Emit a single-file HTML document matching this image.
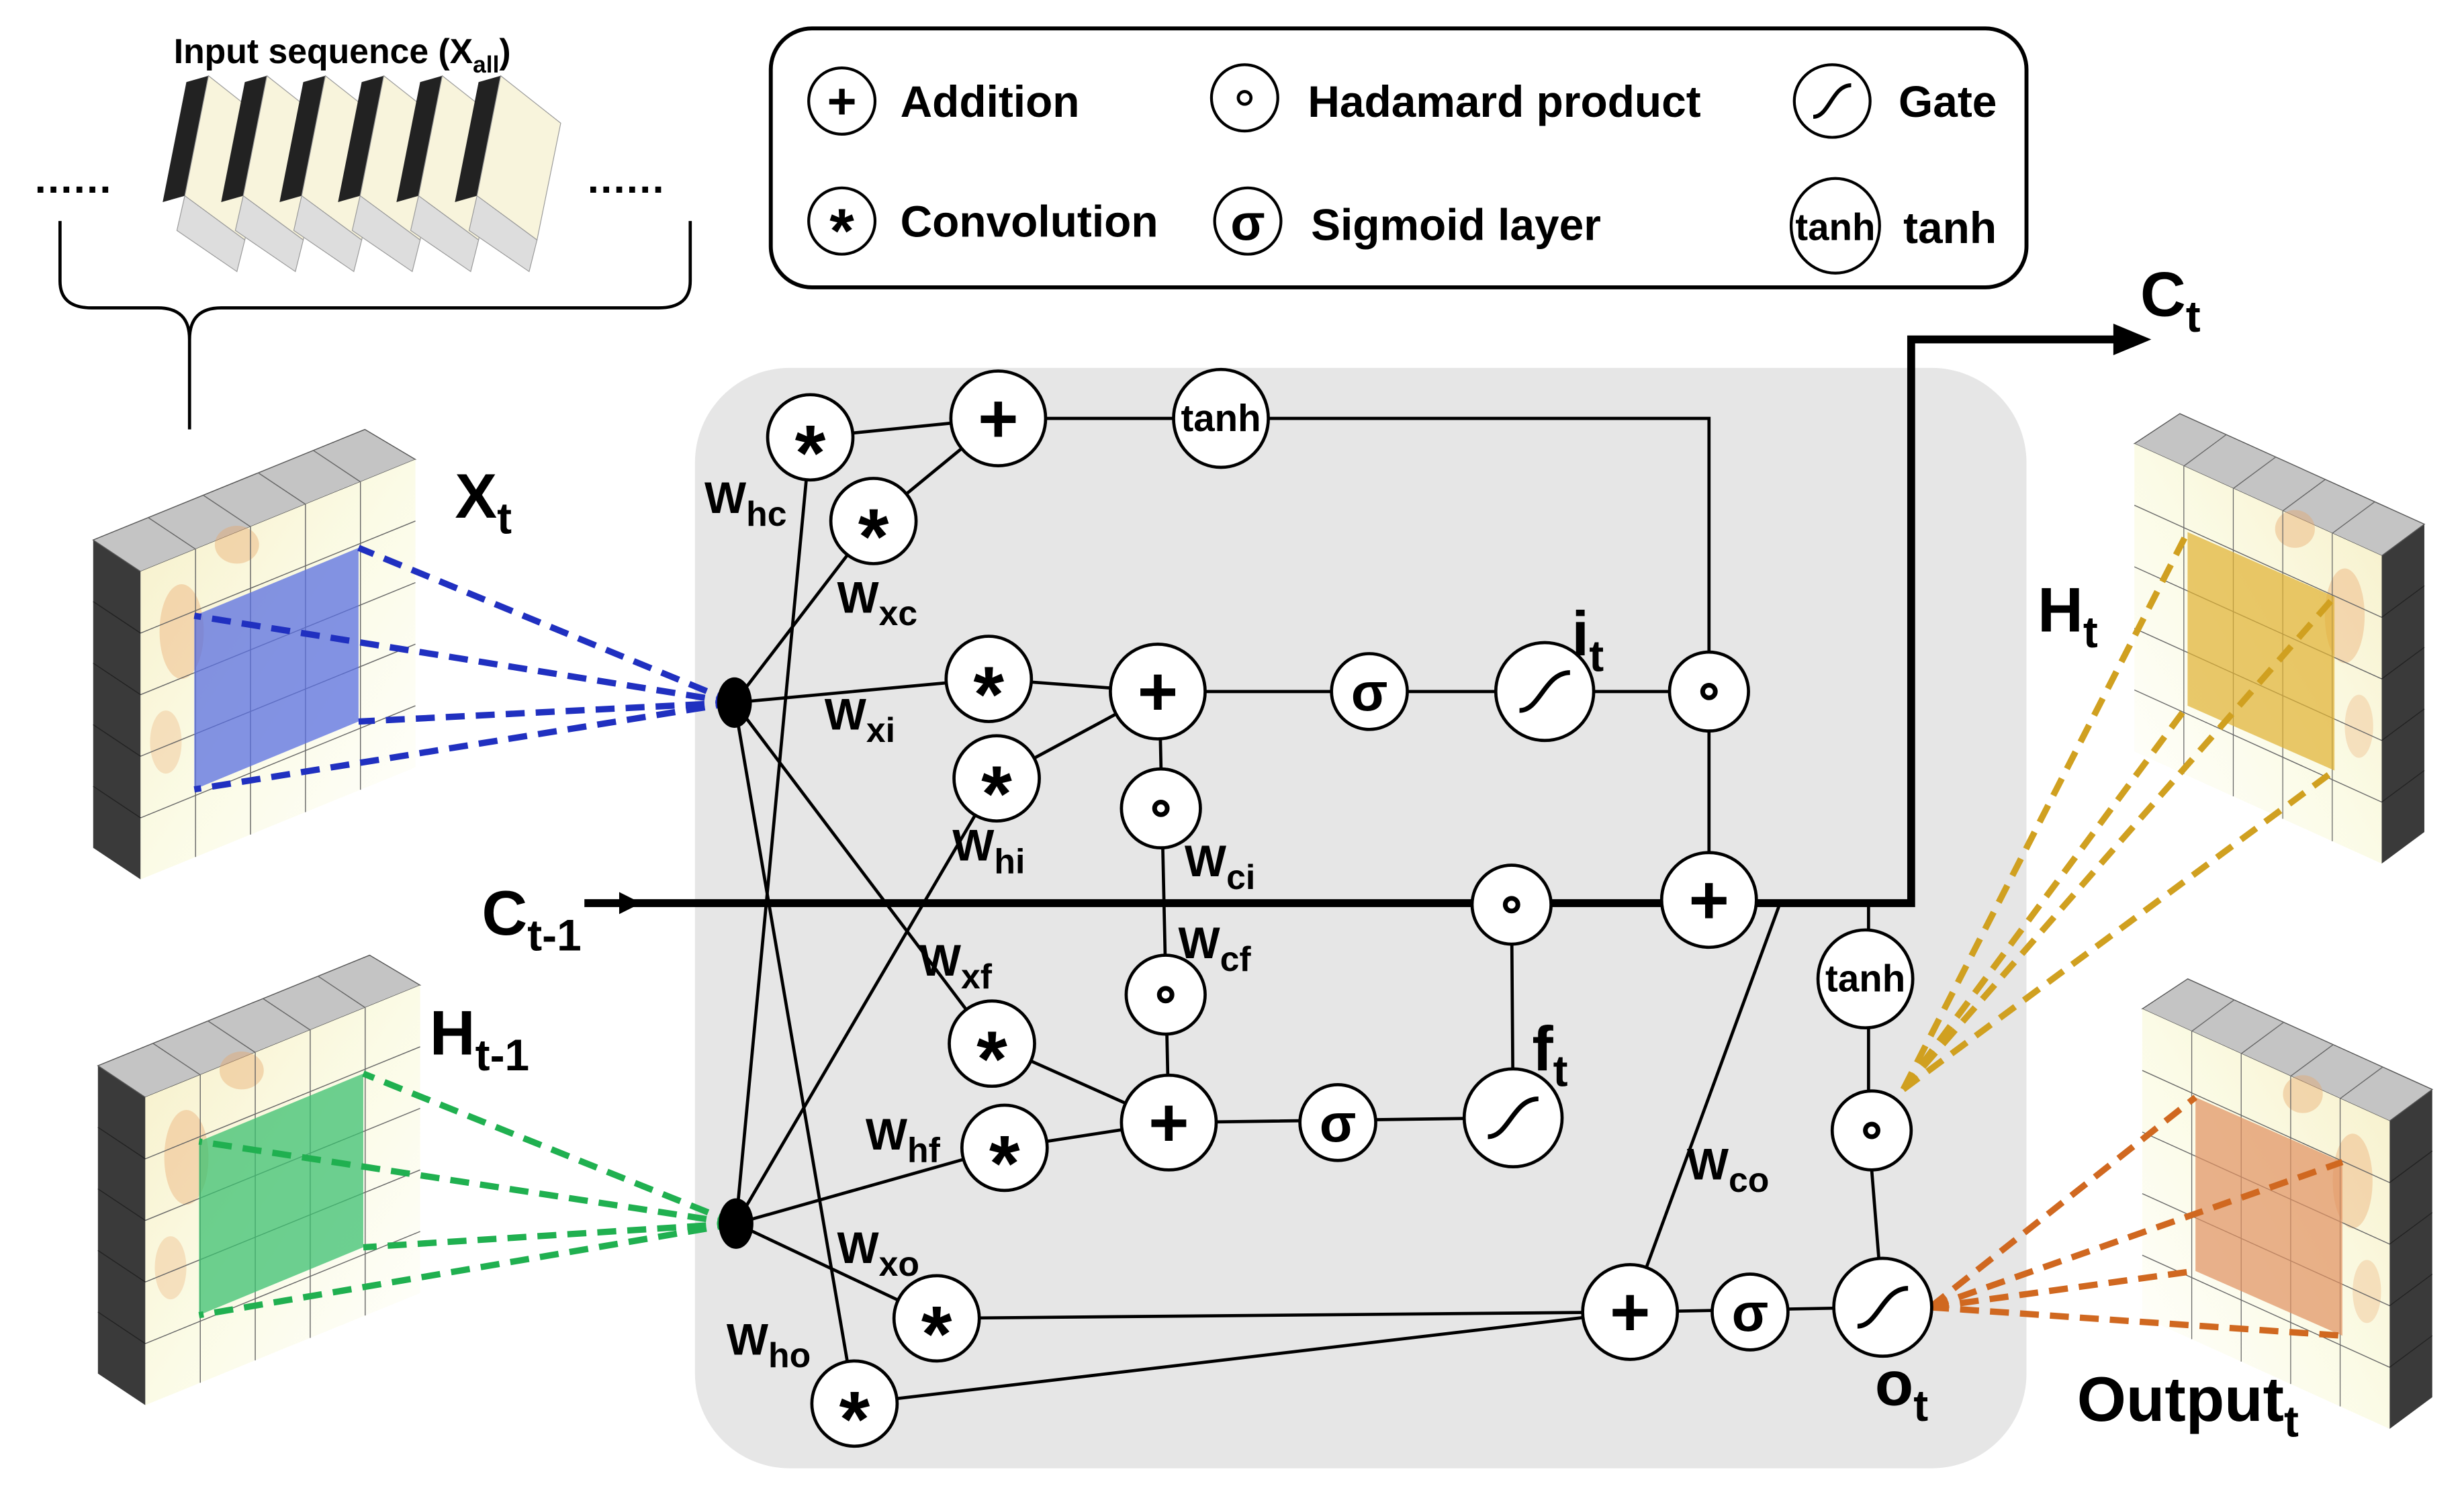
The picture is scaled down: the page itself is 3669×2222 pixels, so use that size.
<!DOCTYPE html>
<html><head><meta charset="utf-8"><style>
html,body{margin:0;padding:0;background:#fff}
svg{display:block}
text{font-family:"Liberation Sans",sans-serif;font-weight:bold;fill:#000}
</style></head><body>
<svg width="3669" height="2222" viewBox="0 0 1560 945" preserveAspectRatio="none" xmlns="http://www.w3.org/2000/svg">
<defs>
<linearGradient id="cream" x1="0" y1="0" x2="1" y2="1">
<stop offset="0" stop-color="#f7efc8"/><stop offset="0.5" stop-color="#fbfbe6"/><stop offset="1" stop-color="#ffffff"/>
</linearGradient>
<g id="blk">
<polygon points="59,342 89,362 89,557 59,537" fill="#3a3a3a"/>
<polygon points="59,342 89,362 263,291 231,272" fill="#c4c4c4" stroke="#555" stroke-width="0.6"/>
<polygon points="89,362 263,291 263,486 89,557" fill="url(#cream)"/>
<ellipse cx="115" cy="400" rx="14" ry="30" fill="#eab27a" opacity="0.45"/>
<ellipse cx="150" cy="345" rx="14" ry="12" fill="#e8a868" opacity="0.4"/>
<ellipse cx="105" cy="470" rx="10" ry="20" fill="#eab27a" opacity="0.35"/>
<g stroke="#666" stroke-width="0.6" fill="none">
<line x1="123.8" y1="347.8" x2="123.8" y2="542.8"/><line x1="158.6" y1="333.6" x2="158.6" y2="528.6"/>
<line x1="193.4" y1="319.4" x2="193.4" y2="514.4"/><line x1="228.2" y1="305.2" x2="228.2" y2="500.2"/>
<line x1="89" y1="401" x2="263" y2="330"/><line x1="89" y1="440" x2="263" y2="369"/>
<line x1="89" y1="479" x2="263" y2="408"/><line x1="89" y1="518" x2="263" y2="447"/>
<line x1="123.8" y1="347.8" x2="93.8" y2="327.8"/><line x1="158.6" y1="333.6" x2="128.6" y2="313.6"/>
<line x1="193.4" y1="319.4" x2="163.4" y2="299.4"/><line x1="228.2" y1="305.2" x2="198.2" y2="285.2"/>
<line x1="59" y1="381" x2="89" y2="401" stroke="#222"/><line x1="59" y1="420" x2="89" y2="440" stroke="#222"/>
<line x1="59" y1="459" x2="89" y2="479" stroke="#222"/><line x1="59" y1="498" x2="89" y2="518" stroke="#222"/>
</g>
</g>
<g id="slice">
<polygon points="103,128 118,52 132,48 117,124" fill="#222"/>
<polygon points="117,124 132,48 170,78 155,152" fill="#f8f4dc" stroke="#999" stroke-width="0.5"/>
<polygon points="117,124 155,152 150,172 112,146" fill="#ddd" stroke="#999" stroke-width="0.5"/>
</g>
</defs>

<!-- input sequence -->
<text x="110" y="40" font-size="22">Input sequence (X<tspan font-size="15" dy="6">all</tspan><tspan dy="-6">)</tspan></text>
<use href="#slice"/><use href="#slice" x="37"/><use href="#slice" x="74"/><use href="#slice" x="111"/><use href="#slice" x="148"/><use href="#slice" x="185"/>
<text x="22" y="122" font-size="26" letter-spacing="1">......</text>
<text x="372" y="122" font-size="26" letter-spacing="1">......</text>
<path d="M38,140 L38,178 Q38,195 58,195 L100,195 Q120,195 120,215 L120,272 M120,215 Q120,195 140,195 L417,195 Q437,195 437,178 L437,140" fill="none" stroke="#000" stroke-width="2"/>

<!-- legend -->
<rect x="488" y="18" width="795" height="164" rx="26" fill="#fff" stroke="#000" stroke-width="2.5"/>
<g fill="#fff" stroke="#000" stroke-width="1.8">
<circle cx="533" cy="64" r="21"/><circle cx="788" cy="62" r="21"/><ellipse cx="1160" cy="64" rx="24" ry="23"/>
<circle cx="533" cy="140" r="21"/><circle cx="790" cy="140" r="21"/><ellipse cx="1162" cy="143" rx="28" ry="30"/>
</g>
<text x="533" y="75" font-size="32" text-anchor="middle">+</text>
<circle cx="788" cy="62" r="4" fill="none" stroke="#000" stroke-width="2"/>
<path d="M1148,74 C1158,74 1160,54 1172,54" fill="none" stroke="#000" stroke-width="2.5"/>
<text x="533" y="160" font-size="40" text-anchor="middle">*</text>
<text x="790" y="152" font-size="32" text-anchor="middle">σ</text>
<text x="1162" y="152" font-size="24" text-anchor="middle">tanh</text>
<text x="570" y="74" font-size="28">Addition</text>
<text x="828" y="74" font-size="28">Hadamard product</text>
<text x="1202" y="74" font-size="28">Gate</text>
<text x="570" y="150" font-size="28">Convolution</text>
<text x="830" y="152" font-size="28">Sigmoid layer</text>
<text x="1205" y="154" font-size="28">tanh</text>

<!-- main grey panel -->
<rect x="440" y="233" width="843" height="697" rx="60" fill="#e6e6e6"/>

<!-- blocks -->
<use href="#blk"/>
<use href="#blk" x="3" y="333"/>
<g transform="translate(1588,-10) scale(-0.9,1)"><use href="#blk"/></g>
<g transform="translate(1593,348) scale(-0.9,1)"><use href="#blk"/></g>

<!-- colored squares -->
<polygon points="123,390 227,347 227,457 123,500" fill="#5a6fe0" opacity="0.75"/>
<polygon points="126,723 230,680 230,790 126,833" fill="#3cc070" opacity="0.75"/>
<polygon points="1385,337 1478,378 1478,488 1385,447" fill="#e0b030" opacity="0.7"/>
<polygon points="1390,695 1483,736 1483,846 1390,805" fill="#e09060" opacity="0.7"/>

<!-- dashed lines -->
<g stroke-width="4" stroke-dasharray="12,7" fill="none">
<g stroke="#2030c0"><line x1="465" y1="445" x2="227" y2="347"/><line x1="465" y1="445" x2="123" y2="390"/><line x1="465" y1="445" x2="227" y2="457"/><line x1="465" y1="445" x2="123" y2="500"/></g>
<g stroke="#20b050"><line x1="466" y1="775" x2="230" y2="680"/><line x1="466" y1="775" x2="126" y2="723"/><line x1="466" y1="775" x2="230" y2="790"/><line x1="466" y1="775" x2="126" y2="833"/></g>
<g stroke="#d0a020"><line x1="1205" y1="690" x2="1385" y2="337"/><line x1="1205" y1="690" x2="1478" y2="378"/><line x1="1205" y1="690" x2="1478" y2="488"/><line x1="1205" y1="690" x2="1385" y2="447"/></g>
<g stroke="#d06820"><line x1="1222" y1="828" x2="1390" y2="695"/><line x1="1222" y1="828" x2="1483" y2="736"/><line x1="1222" y1="828" x2="1483" y2="846"/><line x1="1222" y1="828" x2="1390" y2="805"/></g>
</g>

<!-- thin connectors -->
<g stroke="#000" stroke-width="2" fill="none">
<line x1="513" y1="277" x2="632" y2="265"/><line x1="553" y1="330" x2="632" y2="265"/>
<polyline points="632,265 1082,265 1082,570"/>
<line x1="465" y1="445" x2="553" y2="330"/><line x1="465" y1="445" x2="626" y2="430"/>
<line x1="465" y1="445" x2="628" y2="661"/><line x1="465" y1="445" x2="541" y2="889"/>
<line x1="466" y1="775" x2="513" y2="277"/><line x1="466" y1="775" x2="631" y2="493"/>
<line x1="466" y1="775" x2="636" y2="727"/><line x1="466" y1="775" x2="593" y2="835"/>
<line x1="626" y1="430" x2="733" y2="438"/><line x1="631" y1="493" x2="733" y2="438"/>
<line x1="733" y1="438" x2="1082" y2="438"/>
<line x1="734" y1="438" x2="740" y2="711"/>
<line x1="628" y1="661" x2="740" y2="711"/><line x1="636" y1="727" x2="740" y2="711"/>
<polyline points="740,711 958,708 957,573"/>
<line x1="1127" y1="572" x2="1032" y2="831"/>
<polyline points="1183,572 1183,716 1192,828"/>
<line x1="593" y1="835" x2="1032" y2="831"/><line x1="541" y1="889" x2="1032" y2="831"/>
<line x1="1032" y1="831" x2="1192" y2="828"/>
</g>
<!-- thick C line -->
<polyline points="370,572 1210,572 1210,215 1340,215" fill="none" stroke="#000" stroke-width="5"/>
<polygon points="1338,205 1362,215 1338,225" fill="#000"/>
<polygon points="392,565 406,572 392,579" fill="#000"/>

<!-- dots -->
<ellipse cx="465" cy="445" rx="11" ry="16" fill="#000"/>
<ellipse cx="466" cy="775" rx="11" ry="16" fill="#000"/>

<!-- nodes -->
<g fill="#fff" stroke="#000" stroke-width="2">
<circle cx="513" cy="277" r="27"/><circle cx="553" cy="330" r="27"/><circle cx="626" cy="430" r="27"/><circle cx="631" cy="493" r="27"/>
<circle cx="628" cy="661" r="27"/><circle cx="636" cy="727" r="27"/><circle cx="593" cy="835" r="27"/><circle cx="541" cy="889" r="27"/>
<circle cx="632" cy="265" r="30"/><circle cx="733" cy="438" r="30"/><circle cx="740" cy="711" r="30"/><circle cx="1082" cy="570" r="30"/><circle cx="1032" cy="831" r="30"/>
<ellipse cx="773" cy="265" rx="30" ry="31"/><ellipse cx="1181" cy="620" rx="30" ry="31"/>
<circle cx="867" cy="438" r="24"/><circle cx="847" cy="711" r="24"/><circle cx="1108" cy="831" r="24"/>
<circle cx="978" cy="438" r="31"/><circle cx="958" cy="708" r="31"/><circle cx="1192" cy="828" r="31"/>
<circle cx="1082" cy="438" r="25"/><circle cx="735" cy="512" r="25"/><circle cx="738" cy="630" r="25"/><circle cx="957" cy="573" r="25"/><circle cx="1185" cy="716" r="25"/>
</g>
<g font-size="50" text-anchor="middle">
<text x="513" y="304">*</text><text x="553" y="357">*</text><text x="626" y="457">*</text><text x="631" y="520">*</text>
<text x="628" y="688">*</text><text x="636" y="754">*</text><text x="593" y="862">*</text><text x="541" y="916">*</text>
</g>
<g font-size="44" text-anchor="middle">
<text x="632" y="280">+</text><text x="733" y="453">+</text><text x="740" y="726">+</text><text x="1082" y="585">+</text><text x="1032" y="846">+</text>
</g>
<g font-size="34" text-anchor="middle">
<text x="867" y="450">σ</text><text x="847" y="723">σ</text><text x="1108" y="843">σ</text>
</g>
<g font-size="24" text-anchor="middle"><text x="773" y="273">tanh</text><text x="1181" y="628">tanh</text></g>
<g fill="none" stroke="#000" stroke-width="3">
<circle cx="1082" cy="438" r="4"/><circle cx="735" cy="512" r="4"/><circle cx="738" cy="630" r="4"/><circle cx="957" cy="573" r="4"/><circle cx="1185" cy="716" r="4"/>
<path d="M962,450 C975,450 978,426 994,426"/><path d="M942,720 C955,720 958,696 974,696"/><path d="M1176,840 C1189,840 1192,816 1208,816"/>
</g>

<!-- weight labels -->
<g font-size="28">
<text x="446" y="325">W<tspan font-size="22" dy="8">hc</tspan></text>
<text x="530" y="388">W<tspan font-size="22" dy="8">xc</tspan></text>
<text x="522" y="462">W<tspan font-size="22" dy="8">xi</tspan></text>
<text x="603" y="545">W<tspan font-size="22" dy="8">hi</tspan></text>
<text x="750" y="555">W<tspan font-size="22" dy="8">ci</tspan></text>
<text x="746" y="607">W<tspan font-size="22" dy="8">cf</tspan></text>
<text x="582" y="618">W<tspan font-size="22" dy="8">xf</tspan></text>
<text x="548" y="728">W<tspan font-size="22" dy="8">hf</tspan></text>
<text x="530" y="800">W<tspan font-size="22" dy="8">xo</tspan></text>
<text x="460" y="858">W<tspan font-size="22" dy="8">ho</tspan></text>
<text x="1068" y="747">W<tspan font-size="22" dy="8">co</tspan></text>
</g>
<g font-size="40">
<text x="288" y="328">X<tspan font-size="28" dy="10">t</tspan></text>
<text x="272" y="668">H<tspan font-size="28" dy="10">t-1</tspan></text>
<text x="1290" y="400">H<tspan font-size="28" dy="10">t</tspan></text>
<text x="1315" y="900">Output<tspan font-size="28" dy="10">t</tspan></text>
<text x="305" y="592">C<tspan font-size="28" dy="10">t-1</tspan></text>
<text x="1355" y="200">C<tspan font-size="28" dy="10">t</tspan></text>
<text x="995" y="415">i<tspan font-size="28" dy="10">t</tspan></text>
<text x="970" y="678">f<tspan font-size="28" dy="10">t</tspan></text>
<text x="1187" y="890">o<tspan font-size="28" dy="10">t</tspan></text>
</g>
</svg>
</body></html>
